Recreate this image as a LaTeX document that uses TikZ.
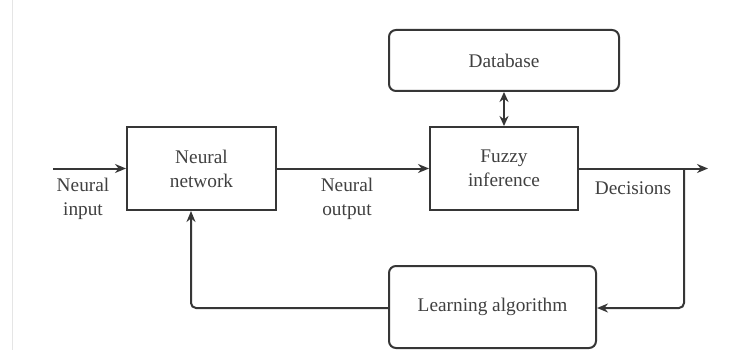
\documentclass[tikz,border=0pt]{standalone}
\usepackage{fontspec}
\setmainfont{Liberation Serif}
\usetikzlibrary{arrows.meta}
\definecolor{ink}{HTML}{363636}
\definecolor{txt}{HTML}{404040}
\begin{document}
\begin{tikzpicture}[x=1pt,y=-1pt,
  box/.style={draw=ink,line width=2pt,inner sep=0pt,text=txt,align=center,
    font=\fontsize{19.3}{24}\selectfont},
  rbox/.style={box,rounded corners=7pt},
  lab/.style={text=txt,align=center,inner sep=0pt,font=\fontsize{19.3}{24}\selectfont},
  conn/.style={draw=ink,line width=2pt,-{Stealth[length=11pt,width=9pt]},rounded corners=5pt},
  conn2/.style={draw=ink,line width=2pt,{Stealth[length=10pt,width=9pt]}-{Stealth[length=10pt,width=9pt]}}]
\useasboundingbox (0,0) rectangle (730,350);
\fill[white] (0,0) rectangle (730,350);
\draw[color=black!10,line width=1pt] (12,0) -- (12,350);
\node[box,minimum width=149pt,minimum height=83pt] (nn) at (201.5,168.5) {Neural\\network};
\node[box,minimum width=148pt,minimum height=83pt] (fi) at (504,168.5) {Fuzzy\\inference};
\node[rbox,minimum width=230pt,minimum height=61pt] (db) at (504,60.5) {Database};
\node[rbox,minimum width=207pt,minimum height=82pt] (la) at (492.5,307) {Learning algorithm};
\coordinate (in) at (53,168.5);
\coordinate (out) at (708,168.5);
\coordinate (br) at (684,168.5);
\node[lab] (lin) at (83,198.5) {Neural\\input};
\node[lab] (lout) at (347,198.5) {Neural\\output};
\node[lab] (ldec) at (633,188) {Decisions};
\draw[conn] (in) -- (nn.west);
\draw[conn] (nn.east) -- (fi.west);
\draw[conn] (fi.east) -- (out);
\draw[conn2] (db.south) -- (fi.north);
\draw[conn] (br) -- (684,308) -- (la.east |- 0,308);
\draw[conn] (la.west |- 0,308) -- (191,308) -- (nn.south -| 191,0);
\end{tikzpicture}
\end{document}
